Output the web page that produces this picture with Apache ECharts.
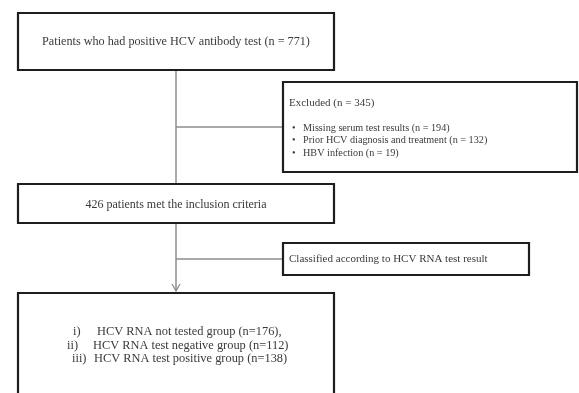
<!DOCTYPE html>
<html>
<head>
<meta charset="utf-8">
<script src="https://cdn.jsdelivr.net/npm/echarts@6/dist/echarts.min.js"></script>
<style>html,body{margin:0;padding:0;background:#fff}#c{width:579px;height:393px}</style>
</head>
<body>
<div id="c"></div>
<script>
// ---- data ----
const totalN = 771;
const excludedN = 345;
const exclusionReasons = ['Missing serum test results', 'Prior HCV diagnosis and treatment', 'HBV infection'];
const exclusionCounts = [194, 132, 19];
const includedN = 426;
const classifyText = 'Classified according to HCV RNA test result';
const groupNumerals = ['i)', 'ii)', 'iii)'];
const groupNames = ['HCV RNA not tested group', 'HCV RNA test negative group', 'HCV RNA test positive group'];
const groupCounts = [176, 112, 138];

// ---- layout (axis units = pixels of the reference) ----
const boxLayout = [
  [18, 13, 334, 70],
  [283, 82, 577, 172],
  [18, 184, 334, 223],
  [283, 243, 529, 275],
  [18, 293, 334, 405]
];
const connectorLayout = [
  {pts: [[176, 70], [176, 184]], arrow: false},
  {pts: [[176, 127], [283, 127]], arrow: false},
  {pts: [[176, 223], [176, 291]], arrow: true},
  {pts: [[176, 259], [283, 259]], arrow: false}
];

// ---- texts built from data ----
const texts = [];
texts.push({t: 'Patients who had positive HCV antibody test (n = ' + totalN + ')', x: 176, y: 42, align: 'center', size: 12.2});
texts.push({t: 'Excluded (n = ' + excludedN + ')', x: 289, y: 103, align: 'left', size: 11});
const bulletY = [128, 140.5, 153];
exclusionReasons.forEach((r, i) => {
  texts.push({t: '\u2022', x: 292, y: bulletY[i], align: 'left', size: 10.2});
  texts.push({t: r + ' (n = ' + exclusionCounts[i] + ')', x: 303, y: bulletY[i], align: 'left', size: 10.2});
});
texts.push({t: includedN + ' patients met the inclusion criteria', x: 176, y: 205, align: 'center', size: 12});
texts.push({t: classifyText, x: 289, y: 259, align: 'left', size: 11});
const numX = [73, 67, 72];
const nameX = [97, 93, 94];
const groupY = [332, 345.5, 359];
groupNames.forEach((g, i) => {
  texts.push({t: groupNumerals[i], x: numX[i], y: groupY[i], align: 'left', size: 12.4});
  texts.push({t: g + ' (n=' + groupCounts[i] + ')' + (i === 0 ? ',' : ''), x: nameX[i], y: groupY[i], align: 'left', size: 12.4});
});

const FONT = '"Liberation Serif", "Times New Roman", serif';
const chart = echarts.init(document.getElementById('c'), null, {renderer: 'canvas'});
chart.setOption({
  backgroundColor: '#ffffff',
  animation: false,
  grid: {left: 0, right: 0, top: 0, bottom: 0},
  xAxis: {type: 'value', min: 0, max: 579, show: false},
  yAxis: {type: 'value', min: 0, max: 393, inverse: true, show: false},
  series: [
    {
      type: 'custom',
      clip: false,
      data: connectorLayout.map((c, i) => [i]),
      renderItem: function (params, api) {
        const c = connectorLayout[params.dataIndex];
        const pts = c.pts.map(p => api.coord(p));
        const children = [{
          type: 'polyline',
          shape: {points: pts},
          style: {stroke: '#8c8c8c', lineWidth: 1.5, fill: null}
        }];
        if (c.arrow) {
          const end = pts[pts.length - 1];
          children.push({
            type: 'polyline',
            shape: {points: [[end[0] - 4, end[1] - 7], end, [end[0] + 4, end[1] - 7]]},
            style: {stroke: '#8c8c8c', lineWidth: 1.3, fill: null}
          });
        }
        return {type: 'group', children: children};
      }
    },
    {
      type: 'custom',
      clip: false,
      data: boxLayout.map((b, i) => [i]),
      renderItem: function (params, api) {
        const b = boxLayout[params.dataIndex];
        const p0 = api.coord([b[0], b[1]]);
        const p1 = api.coord([b[2], b[3]]);
        return {
          type: 'rect',
          shape: {x: p0[0], y: p0[1], width: p1[0] - p0[0], height: p1[1] - p0[1]},
          style: {fill: '#ffffff', stroke: '#1e1e1e', lineWidth: 2.2}
        };
      }
    },
    {
      type: 'custom',
      clip: false,
      data: texts.map((t, i) => [i]),
      renderItem: function (params, api) {
        const t = texts[params.dataIndex];
        const p = api.coord([t.x, t.y]);
        return {
          type: 'text',
          x: p[0], y: p[1],
          style: {
            text: t.t,
            fill: '#3a3a3a',
            font: t.size + 'px ' + FONT,
            align: t.align,
            verticalAlign: 'middle'
          }
        };
      }
    }
  ]
});
</script>
</body>
</html>
